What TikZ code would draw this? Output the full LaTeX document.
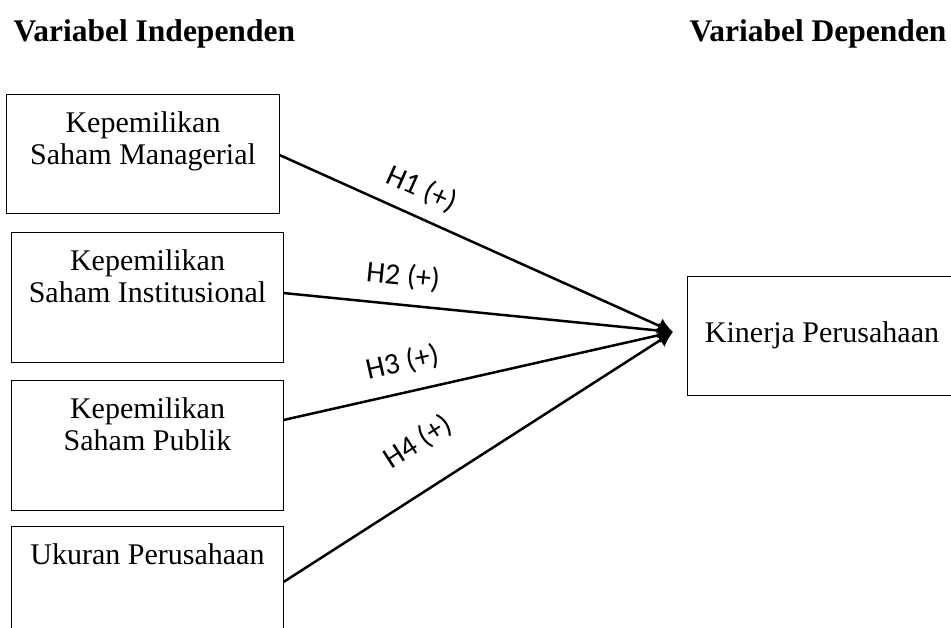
\documentclass[tikz,border=0pt]{standalone}
\usepackage{fontspec}
\setmainfont{Liberation Serif}
\newfontfamily\hypofont{Carlito}
\usetikzlibrary{arrows.meta,positioning}
\tikzset{>={Latex[length=6pt,width=6.4pt]}}
\tikzset{
	varbox/.style={draw=black, line width=0.4pt, rectangle, minimum width=108.4pt, minimum height=52pt, inner sep=0pt},
	vartext/.style={align=center, inner sep=0pt, font=\fontsize{12}{12.8}\selectfont},
	heading/.style={inner sep=0pt, font=\bfseries\fontsize{12.6}{14}\selectfont},
	hypo/.style={line width=1pt, ->},
	hypolabel/.style={sloped, inner sep=0pt, font=\hypofont\fontsize{12}{14}\selectfont}
}

\begin{document}
\begin{tikzpicture}[x=0.4pt, y=-0.4pt]
		\useasboundingbox (0, 0) rectangle (951, 627);

		% the headings
		\node[heading, anchor=base west] (indep) at (13, 41) {Variabel Independen};
		\node[heading, anchor=base east] (dep) at (947, 41) {Variabel Dependen};

		% the independent variables
		\node[varbox, minimum width=108.8pt, minimum height=47.6pt] (m1) at (143, 153.5) {};
		\node[varbox] (m2) at (147.5, 297) {};
		\node[varbox] (m3) at (147.5, 445) {};
		\node[varbox] (m4) at (147.5, 591) {};

		\node[vartext, below=7.2pt of m1.north] (t1) {Kepemilikan\\Saham Managerial};
		\node[vartext, below=7.2pt of m2.north] (t2) {Kepemilikan\\Saham Institusional};
		\node[vartext, below=7.2pt of m3.north] (t3) {Kepemilikan\\Saham Publik};
		\node[vartext, below=7.2pt of m4.north] (t4) {Ukuran Perusahaan};

		% the dependent variable
		\node[varbox, minimum width=108pt, minimum height=47.6pt, font=\fontsize{12}{12.8}\selectfont] (kp) at (822, 335.5) {Kinerja Perusahaan};
		\coordinate (tip) at (673, 332);

		% the hypotheses
		\draw[hypo] ([yshift=-0.6pt]m1.east) -- (tip) node[hypolabel, pos=0.333, above=5.2pt] (h1) {H1 (+)};
		\draw[hypo] ([yshift=1.6pt]m2.east) -- (tip) node[hypolabel, pos=0.30, above=5.6pt] (h2) {H2 (+)};
		\draw[hypo] ([yshift=10pt]m3.east) -- (tip) node[hypolabel, pos=0.322, above=6pt] (h3) {H3 (+)};
		\draw[hypo] ([yshift=3.6pt]m4.east) -- (tip) node[hypolabel, pos=0.408, above=12.4pt] (h4) {H4 (+)};
	\end{tikzpicture}
\end{document}
